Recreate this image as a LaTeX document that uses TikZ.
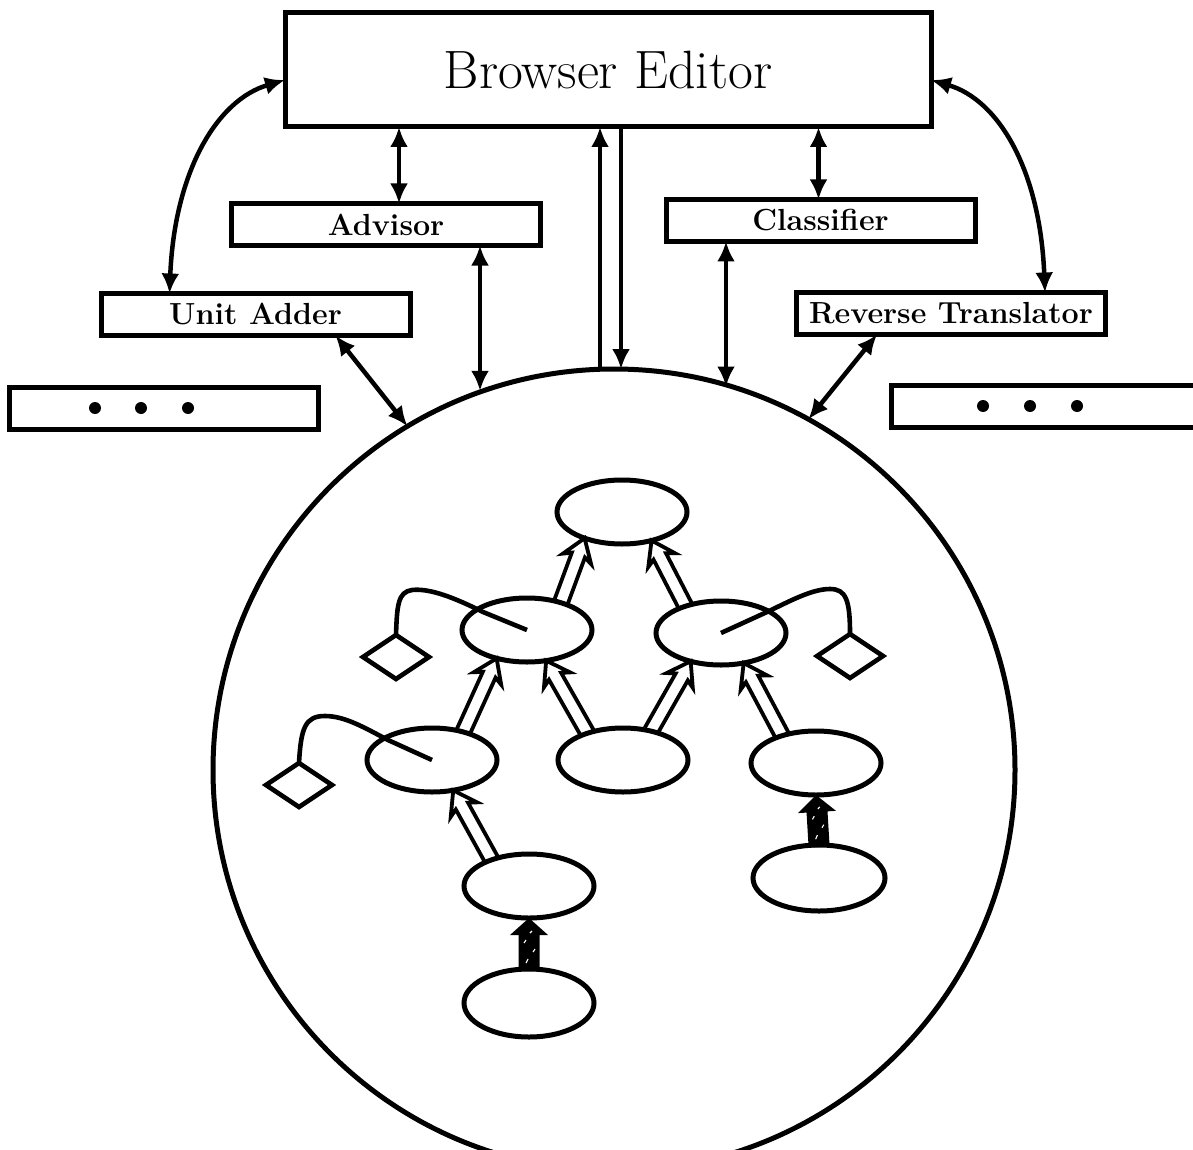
\documentclass[tikz,border=0pt]{standalone}
\usetikzlibrary{shapes.geometric,arrows.meta,calc}
\newcommand\hollowarrow[2]{%
  \draw[hollow] let \p1=($(#2)-(#1)$), \n1={atan2(\y1,\x1)}, \n2={veclen(\x1,\y1)} in
    [shift={(#1)}, rotate=\n1] (0pt,7pt) -- (\n2-18pt,7pt) -- (\n2-22pt,15pt) -- (\n2,0pt)
    -- (\n2-22pt,-15pt) -- (\n2-18pt,-7pt) -- (0pt,-7pt);}
\newcommand\fatarrow[2]{%
  \fill let \p1=($(#2)-(#1)$), \n1={atan2(\y1,\x1)}, \n2={veclen(\x1,\y1)} in
    [shift={(#1)}, rotate=\n1] (-2pt,10.5pt) -- (\n2-17pt,10.5pt) -- (\n2-17pt,19pt) -- (\n2,0pt)
    -- (\n2-17pt,-19pt) -- (\n2-17pt,-10.5pt) -- (-2pt,-10.5pt) -- cycle;
  \draw[white, line width=1.1pt] let \p1=($(#2)-(#1)$), \n1={atan2(\y1,\x1)} in
    [shift={(#1)}, rotate=\n1] (6pt,3pt) -- (10pt,1pt) (17pt,-4pt) -- (20pt,-6pt)
    (26pt,5pt) -- (29pt,3pt) (36pt,-1pt) -- (38pt,-3pt);}
\begin{document}
\begin{tikzpicture}[x=1pt,y=-1pt,
  box/.style={draw, line width=5pt, rectangle, inner sep=0pt, outer sep=0pt},
  sbox/.style={box, minimum width=309pt, minimum height=42pt, font=\fontsize{30.5}{32}\selectfont\bfseries},
  ell/.style={ellipse, draw, line width=5pt, minimum width=130pt, minimum height=64pt, inner sep=0pt, outer sep=0pt},
  dia/.style={diamond, draw, line width=4.6pt, minimum width=66pt, minimum height=44pt, inner sep=0pt, outer sep=0pt},
  conn/.style={line width=4.5pt, {Latex[length=20pt,width=18pt]}-{Latex[length=20pt,width=18pt]}},
  oneway/.style={line width=4.5pt, -{Latex[length=20pt,width=18pt]}},
  link/.style={line width=4.6pt},
  hollow/.style={draw, line width=3.8pt, line join=miter},
  dot/.style={circle, fill=black, minimum size=12pt, inner sep=0pt}]
\useasboundingbox (0,0) rectangle (1193,1150);

% big circle
\node[circle, draw, line width=5pt, minimum size=802pt, inner sep=0pt, outer sep=0pt] (world) at (614,770) {};

% boxes
\node[box, minimum width=646pt, minimum height=114pt, font=\fontsize{54}{56}\selectfont] (be) at (608,70) {Browser Editor};
\node[sbox] (adv) at (386,224.5) {Advisor};
\node[sbox] (cl) at (820.5,220.5) {Classifier};
\node[sbox] (ua) at (255.5,314.5) {Unit Adder};
\node[sbox] (rt) at (951,313.5) {Reverse Translator};
\node[sbox] (ld) at (164,408.5) {};
\node[sbox, minimum width=310pt] (rd) at (1046,406) {};

\node[dot] (ld1) at (95,408) {};
\node[dot] (ld2) at (141,408) {};
\node[dot] (ld3) at (188,408) {};
\node[dot] (rd1) at (983,406) {};
\node[dot] (rd2) at (1030,406) {};
\node[dot] (rd3) at (1077,406) {};

% connectors among boxes
\draw[conn] ([yshift=-10pt]be.west) .. controls +(-68,20) and +(5,-122) .. ([xshift=-86pt]ua.north);
\draw[conn] ([yshift=-10pt]be.east) .. controls +(68,20) and +(-5,-122) .. ([xshift=94pt]rt.north);
\draw[conn] ([xshift=13pt]adv.north) -- ([xshift=13pt]adv.north |- be.south);
\draw[conn] ([xshift=-2pt]cl.north) -- ([xshift=-2pt]cl.north |- be.south);
\draw[conn] ([xshift=94pt]adv.south) -- ([xshift=94pt]adv.south |- world.109.5);
\draw[conn] ([xshift=-94.5pt]cl.south) -- ([xshift=-94.5pt]cl.south |- world.73.8);
\draw[conn] ([xshift=80pt]ua.south) -- (world.121.3);
\draw[conn] ([xshift=-74pt]rt.south) -- (world.61.5);
\draw[oneway] (world.92.86) -- (world.92.86 |- be.south);
\draw[oneway] (world.89.57 |- be.south) -- (world.89.57);

% inner network
\node[ell] (e1) at (622,512) {};
\node[ell] (e2) at (527,630) {};
\node[ell] (e3) at (721,633) {};
\node[ell] (e4) at (432,760) {};
\node[ell] (e5) at (623,760) {};
\node[ell] (e6) at (816,763) {};
\node[ell] (e7) at (529,886) {};
\node[ell, minimum height=68pt] (e8) at (529,1003) {};
\node[ell, minimum width=132pt, minimum height=66pt] (e9) at (819,878) {};

\node[dia] (d1) at (396,657) {};
\node[dia] (d2) at (299,785) {};
\node[dia] (d3) at (850,656) {};

\hollowarrow{e2.39}{e1.215.5}
\hollowarrow{e3.143.6}{e1.316}
\hollowarrow{e4.42}{e2.223.6}
\hollowarrow{e5.143.8}{e2.302.6}
\hollowarrow{e5.46}{e3.223.4}
\hollowarrow{e6.141.7}{e3.307.4}
\hollowarrow{e7.145.4}{e4.305.7}

\fatarrow{e8.north}{e7.south}
\fatarrow{e9.north}{e6.south}

\draw[link] (e2.center) -- (483,612) .. controls (455,598) and (430,588) .. (412,590) .. controls (398,592) and (397,605) .. (d1.north);
\draw[link] (e4.center) -- (388,740) .. controls (365,728) and (345,716) .. (325,716) .. controls (305,716) and (301,728) .. (d2.north);
\draw[link] (e3.center) -- (767,612) .. controls (790,601) and (812,589) .. (830,589) .. controls (846,589) and (850,600) .. (d3.north);
\end{tikzpicture}
\end{document}
